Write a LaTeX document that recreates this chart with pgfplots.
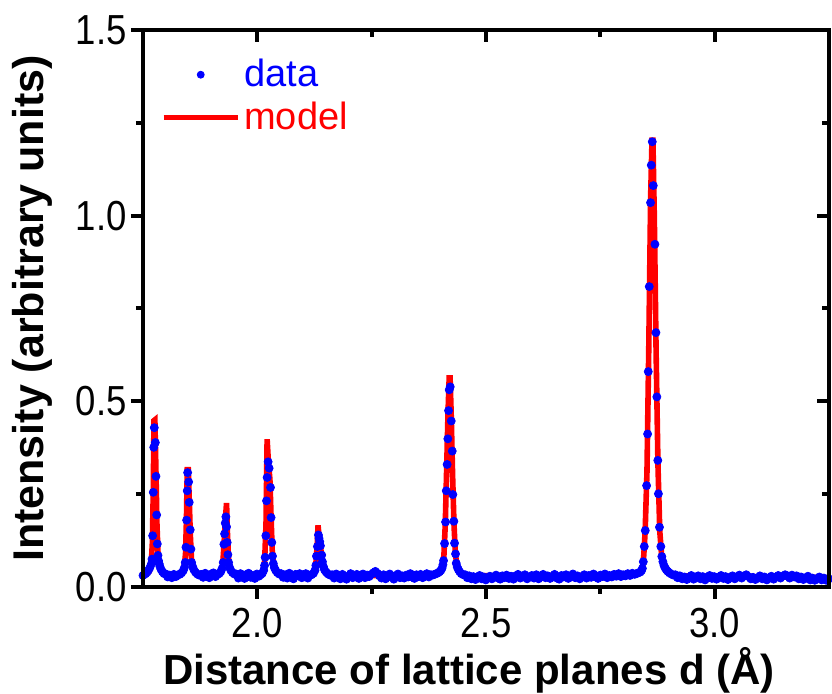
\documentclass[border=0pt]{standalone}
\usepackage{fontspec}
\setmainfont{Liberation Sans}
\newfontfamily\narrowfont[FakeStretch=0.87]{Liberation Sans}
\usepackage{pgfplots}
\pgfplotsset{compat=1.18}
\begin{document}
\begin{tikzpicture}
\pgfplotsset{
  base/.style={
    width=343pt, height=278.5pt, scale only axis,
    xmin=1.75, xmax=3.25, ymin=0, ymax=1.5,
    xtick={2,2.5,3}, ytick={0,0.5,1,1.5}, minor tick num=1,
    axis line style={line width=2pt},
    every tick/.style={line width=2pt, black},
    every minor tick/.style={line width=2pt, black},
    major tick length=6pt, minor tick length=3.5pt,
  }
}
\begin{axis}[base,
  xtick pos=left, ytick pos=left, tick align=outside,
  ticklabel style={font=\narrowfont\fontsize{21}{25}\selectfont, inner sep=0pt,
    /pgf/number format/fixed, /pgf/number format/fixed zerofill,
    /pgf/number format/precision=1, /pgf/number format/assume math mode=true},
  xticklabel style={yshift=-4.5pt},
  yticklabel style={xshift=-2pt},
  xlabel={Distance of lattice planes d (Å)},
  ylabel={Intensity (arbitrary units)},
  xlabel style={at={(axis description cs:0.4752,-0.1759)}, anchor=base, font=\bfseries\fontsize{21}{26}\selectfont},
  ylabel style={at={(axis description cs:-0.1618,0.5)}, anchor=center, font=\bfseries\fontsize{21.5}{26}\selectfont},
  legend style={draw=none, fill=none, at={(axis description cs:0.026,0.955)}, anchor=north west, inner sep=0pt, font=\fontsize{19}{22}\selectfont, row sep=2pt},
  legend cell align=left,
]
\addplot[red, line width=2.8pt, forget plot] coordinates {
(1.750,0.032)(1.758,0.035)(1.764,0.042)(1.768,0.060)(1.7705,0.120)(1.7725,0.260)(1.7740,0.448)(1.7760,0.450)(1.7785,0.300)(1.7805,0.170)(1.7830,0.085)(1.7870,0.050)(1.7930,0.038)(1.8050,0.031)(1.8250,0.031)(1.8350,0.037)(1.8400,0.050)(1.8430,0.090)(1.8450,0.180)(1.8468,0.316)(1.8490,0.316)(1.8510,0.240)(1.8535,0.140)(1.8560,0.075)(1.8600,0.048)(1.8660,0.036)(1.8800,0.030)(1.9100,0.031)(1.9190,0.038)(1.9240,0.055)(1.9270,0.110)(1.9300,0.180)(1.9327,0.226)(1.9345,0.150)(1.9370,0.075)(1.9410,0.045)(1.9470,0.034)(1.9700,0.030)(2.0050,0.031)(2.0120,0.040)(2.0160,0.070)(2.0190,0.170)(2.0214,0.398)(2.0245,0.330)(2.0275,0.290)(2.0300,0.190)(2.0325,0.100)(2.0360,0.058)(2.0420,0.038)(2.0550,0.031)(2.1150,0.031)(2.1240,0.038)(2.1285,0.070)(2.1310,0.115)(2.1328,0.166)(2.1350,0.135)(2.1380,0.110)(2.1410,0.080)(2.1440,0.052)(2.1500,0.037)(2.1650,0.030)(2.3800,0.031)(2.3980,0.037)(2.4040,0.050)(2.4080,0.085)(2.4110,0.170)(2.4140,0.320)(2.4170,0.470)(2.4195,0.563)(2.4215,0.563)(2.4240,0.460)(2.4270,0.300)(2.4300,0.170)(2.4330,0.090)(2.4370,0.052)(2.4450,0.036)(2.4600,0.030)(2.8200,0.032)(2.8350,0.038)(2.8420,0.050)(2.8450,0.085)(2.8480,0.150)(2.8520,0.310)(2.8560,0.650)(2.8600,1.050)(2.8630,1.203)(2.8650,1.203)(2.8680,1.000)(2.8720,0.630)(2.8760,0.330)(2.8800,0.150)(2.8840,0.085)(2.8900,0.052)(2.9000,0.038)(2.9200,0.030)(3.2500,0.025)
};
\addplot[only marks, mark=*, mark size=2pt, blue, mark options={draw=blue, fill=blue},
  legend image code/.code={\fill[blue] (18.5pt,0pt) circle (1.75pt);}] coordinates {
(1.7500,0.031)(1.7530,0.034)(1.7560,0.036)(1.7590,0.040)(1.7620,0.045)(1.7650,0.052)(1.7683,0.062)
(1.7697,0.075)(1.7711,0.138)(1.7725,0.255)(1.7735,0.376)(1.7747,0.429)(1.7770,0.389)(1.7784,0.298)(1.7799,0.194)(1.7813,0.116)(1.7828,0.085)(1.7842,0.070)(1.7856,0.062)
(1.7870,0.055)(1.7895,0.047)(1.7925,0.041)(1.7960,0.036)(1.8000,0.035)(1.8040,0.027)(1.8085,0.032)(1.8130,0.025)(1.8175,0.034)(1.8220,0.028)(1.8265,0.033)(1.8305,0.034)(1.8345,0.038)(1.8380,0.044)(1.8405,0.052)
(1.8424,0.066)(1.8439,0.107)(1.8454,0.180)(1.8467,0.259)(1.8476,0.308)(1.8498,0.283)(1.8511,0.228)(1.8533,0.154)(1.8548,0.102)(1.8563,0.066)(1.8585,0.055)(1.8610,0.047)(1.8645,0.040)(1.8685,0.035)(1.8725,0.032)
(1.8770,0.034)(1.8815,0.026)(1.8860,0.037)(1.8905,0.029)(1.8950,0.025)(1.8995,0.035)(1.9040,0.038)(1.9085,0.028)(1.9125,0.033)(1.9165,0.036)(1.9200,0.041)(1.9230,0.050)
(1.9254,0.066)(1.9269,0.115)(1.9284,0.143)(1.9298,0.172)(1.9312,0.189)(1.9327,0.162)(1.9341,0.120)(1.9356,0.087)(1.9372,0.066)(1.9392,0.053)(1.9420,0.045)(1.9455,0.039)(1.9495,0.035)
(1.9540,0.035)(1.9585,0.024)(1.9630,0.036)(1.9675,0.029)(1.9720,0.023)(1.9765,0.034)(1.9810,0.037)(1.9855,0.026)(1.9900,0.031)(1.9945,0.023)(1.9990,0.035)(2.0035,0.029)(2.0075,0.033)(2.0110,0.037)(2.0140,0.045)(2.0158,0.058)
(2.0171,0.080)(2.0186,0.138)(2.0201,0.232)(2.0214,0.295)(2.0236,0.337)(2.0258,0.320)(2.0288,0.268)(2.0301,0.187)(2.0317,0.120)(2.0332,0.083)(2.0350,0.063)(2.0372,0.052)(2.0400,0.045)(2.0435,0.039)(2.0475,0.035)
(2.0520,0.036)(2.0565,0.026)(2.0610,0.033)(2.0655,0.024)(2.0700,0.037)(2.0745,0.027)(2.0790,0.022)(2.0835,0.034)(2.0880,0.031)(2.0925,0.036)(2.0970,0.025)(2.1015,0.027)(2.1060,0.036)(2.1105,0.024)(2.1150,0.032)(2.1190,0.033)(2.1230,0.037)(2.1262,0.045)(2.1280,0.058)
(2.1293,0.083)(2.1314,0.109)(2.1336,0.140)(2.1349,0.131)(2.1365,0.122)(2.1380,0.111)(2.1408,0.086)(2.1424,0.068)(2.1445,0.055)(2.1470,0.046)(2.1505,0.040)(2.1545,0.035)(2.1590,0.032)
(2.1635,0.033)(2.1680,0.024)(2.1725,0.035)(2.1770,0.028)(2.1815,0.022)(2.1860,0.034)(2.1905,0.027)(2.1950,0.021)(2.1995,0.030)(2.2040,0.036)(2.2085,0.025)(2.2130,0.029)(2.2175,0.034)(2.2220,0.023)(2.2265,0.028)(2.2310,0.035)(2.2355,0.025)(2.2400,0.032)(2.2445,0.028)(2.2490,0.034)(2.2535,0.038)(2.2580,0.042)(2.2625,0.037)(2.2670,0.030)(2.2715,0.024)(2.2760,0.033)(2.2805,0.022)(2.2850,0.029)(2.2895,0.035)(2.2940,0.026)(2.2985,0.021)(2.3030,0.031)(2.3075,0.035)(2.3120,0.025)(2.3165,0.030)(2.3210,0.024)(2.3255,0.032)(2.3300,0.027)(2.3345,0.036)(2.3390,0.026)(2.3435,0.023)(2.3480,0.033)(2.3525,0.028)(2.3570,0.034)(2.3615,0.025)(2.3660,0.031)(2.3705,0.036)(2.3750,0.027)(2.3795,0.033)(2.3835,0.032)(2.3875,0.034)(2.3915,0.036)(2.3950,0.038)(2.3985,0.041)(2.4015,0.045)(2.4040,0.051)(2.4058,0.060)
(2.4072,0.071)(2.4094,0.117)(2.4116,0.175)(2.4131,0.259)(2.4150,0.330)(2.4166,0.399)(2.4181,0.475)(2.4196,0.531)(2.4218,0.539)(2.4240,0.447)(2.4262,0.366)(2.4275,0.249)(2.4297,0.177)(2.4312,0.118)(2.4334,0.089)(2.4349,0.064)(2.4370,0.054)(2.4395,0.047)(2.4425,0.041)(2.4460,0.036)(2.4500,0.033)
(2.4545,0.033)(2.4590,0.025)(2.4635,0.030)(2.4680,0.022)(2.4725,0.028)(2.4770,0.020)(2.4815,0.026)(2.4860,0.031)(2.4905,0.022)(2.4950,0.027)(2.4995,0.019)(2.5040,0.024)(2.5085,0.029)(2.5130,0.022)(2.5175,0.027)(2.5220,0.032)(2.5265,0.024)(2.5310,0.021)(2.5355,0.030)
(2.5400,0.025)(2.5450,0.032)(2.5500,0.023)(2.5550,0.029)(2.5600,0.021)(2.5650,0.030)(2.5700,0.034)(2.5750,0.024)(2.5800,0.028)(2.5850,0.033)(2.5900,0.022)(2.5950,0.027)(2.6000,0.031)(2.6050,0.024)(2.6100,0.033)(2.6150,0.022)(2.6200,0.027)(2.6250,0.034)(2.6300,0.025)(2.6350,0.030)(2.6400,0.023)(2.6450,0.028)(2.6500,0.034)(2.6550,0.024)(2.6600,0.021)(2.6650,0.031)(2.6700,0.027)(2.6750,0.033)(2.6800,0.023)(2.6850,0.029)(2.6900,0.035)(2.6950,0.025)(2.7000,0.030)(2.7050,0.022)(2.7100,0.028)(2.7150,0.033)(2.7200,0.024)(2.7250,0.031)(2.7300,0.026)(2.7350,0.035)(2.7400,0.027)(2.7450,0.023)(2.7500,0.032)(2.7550,0.028)(2.7600,0.035)(2.7650,0.025)(2.7700,0.031)(2.7750,0.027)(2.7800,0.034)(2.7850,0.029)(2.7900,0.036)(2.7950,0.028)(2.8000,0.033)(2.8050,0.030)(2.8100,0.036)(2.8150,0.031)(2.8200,0.037)(2.8250,0.034)(2.8290,0.036)(2.8330,0.038)(2.8370,0.040)(2.8400,0.044)(2.8420,0.050)(2.8440,0.068)
(2.8461,0.109)(2.8483,0.152)(2.8512,0.273)(2.8534,0.412)(2.8548,0.580)(2.8570,0.809)(2.8598,1.035)(2.8614,1.136)(2.8636,1.199)(2.8658,1.081)(2.8694,0.923)(2.8716,0.685)(2.8736,0.512)(2.8757,0.341)(2.8770,0.251)(2.8793,0.161)(2.8823,0.109)(2.8845,0.082)(2.8868,0.068)(2.8892,0.058)(2.8918,0.051)(2.8945,0.046)(2.8975,0.042)(2.9010,0.038)(2.9050,0.035)(2.9095,0.032)
(2.9140,0.033)(2.9190,0.025)(2.9240,0.030)(2.9290,0.022)(2.9340,0.027)(2.9390,0.020)(2.9440,0.026)(2.9490,0.031)(2.9540,0.021)(2.9590,0.026)(2.9640,0.030)(2.9690,0.022)(2.9740,0.028)(2.9790,0.019)(2.9840,0.025)(2.9890,0.031)(2.9940,0.023)(2.9990,0.028)
(3.0040,0.021)(3.0090,0.026)(3.0140,0.031)(3.0190,0.023)(3.0240,0.028)(3.0290,0.020)(3.0340,0.025)(3.0390,0.030)(3.0440,0.022)(3.0490,0.027)(3.0540,0.032)(3.0590,0.024)(3.0640,0.029)(3.0690,0.033)(3.0740,0.028)(3.0790,0.022)(3.0840,0.026)(3.0890,0.020)(3.0940,0.025)(3.0990,0.030)(3.1040,0.022)(3.1090,0.027)(3.1140,0.019)(3.1190,0.024)(3.1240,0.029)(3.1290,0.021)(3.1340,0.027)(3.1390,0.031)(3.1440,0.024)(3.1490,0.029)(3.1540,0.033)(3.1590,0.030)(3.1640,0.024)(3.1690,0.032)(3.1740,0.027)(3.1790,0.030)(3.1840,0.022)(3.1890,0.027)(3.1940,0.020)(3.1990,0.025)(3.2040,0.029)(3.2090,0.019)(3.2140,0.024)(3.2190,0.018)(3.2240,0.023)(3.2290,0.027)(3.2340,0.019)(3.2390,0.024)(3.2440,0.018)(3.2500,0.022)
};
\addlegendentry{\textcolor{blue}{data}}
\addlegendimage{red, line width=2.5pt, legend image code/.code={\draw[red, line width=2.5pt] (0pt,0pt) -- (37pt,0pt);}}
\addlegendentry{\textcolor{red}{model}}
\end{axis}
\begin{axis}[base,
  xtick pos=right, ytick pos=right, tick align=inside,
  xticklabels={}, yticklabels={},
]
\end{axis}
\pgfresetboundingbox
\path (-71.5pt,-53.5pt) rectangle (344.5pt,293.5pt);
\end{tikzpicture}
\end{document}
